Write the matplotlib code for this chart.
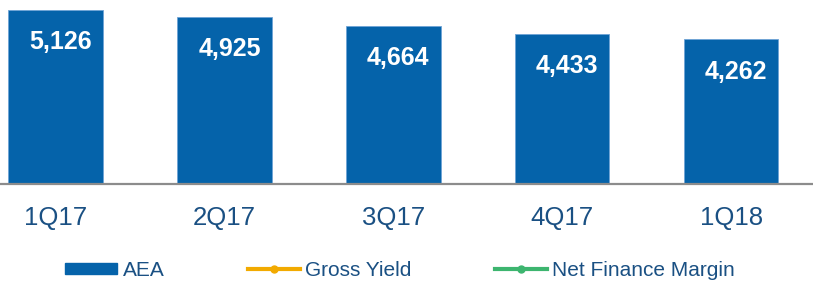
import matplotlib
matplotlib.use('Agg')
from matplotlib import pyplot as plt
from matplotlib import font_manager
from matplotlib.patches import Patch
from matplotlib.lines import Line2D

plt.rcParams['font.family'] = ['Liberation Sans', 'DejaVu Sans']

quarters = ['1Q17', '2Q17', '3Q17', '4Q17', '1Q18']
aea = [5126, 4925, 4664, 4433, 4262]

bar_color = '#0563AA'
text_color = '#1A5083'

# legend uses a condensed face in the original
names = {f.name for f in font_manager.fontManager.ttflist}
if 'Liberation Sans Narrow' in names:
    leg_font = {'family': 'Liberation Sans Narrow', 'size': 19}
    leg_kw = dict(handlelength=2.0, handletextpad=0.2, columnspacing=3.2)
else:
    leg_font = {'family': 'Liberation Sans', 'size': 15}
    leg_kw = dict(handlelength=2.5, handletextpad=0.25, columnspacing=4.0)

fig = plt.figure(figsize=(8.13, 2.83), dpi=100)
ax = fig.add_axes([0, 0.35, 1, 0.65])

x = range(len(quarters))
bars = ax.bar(x, aea, width=0.56, color=bar_color, edgecolor='#6FA3D6', linewidth=0.6, zorder=2)

# value labels inside bars
for xi, v in zip(x, aea):
    ax.text(xi + 0.03, v - 950, '{:,}'.format(v), ha='center', va='center',
            color='white', fontsize=18, fontweight='bold', zorder=3)

ax.set_xlim(-0.328, 4.485)
ax.set_ylim(0, 5421)
ax.set_xticks(list(x))
ax.set_xticklabels(quarters, fontsize=18.5, color=text_color)
ax.tick_params(axis='x', length=0, pad=16)
ax.set_yticks([])
for s in ['top', 'right', 'left']:
    ax.spines[s].set_visible(False)
ax.spines['bottom'].set_color('#8C8C8C')
ax.spines['bottom'].set_linewidth(1.6)

handles = [
    Patch(facecolor=bar_color, edgecolor=bar_color),
    Line2D([], [], color='#F2AA00', lw=3, marker='o', markersize=5),
    Line2D([], [], color='#3DB56F', lw=3, marker='o', markersize=5),
]
labels = ['AEA', 'Gross Yield', 'Net Finance Margin']
leg = fig.legend(handles, labels, loc='center', bbox_to_anchor=(0.492, 0.045), ncol=3,
                 frameon=False, prop=leg_font, handleheight=0.4, borderpad=0, **leg_kw)
for t in leg.get_texts():
    t.set_color(text_color)

fig.savefig('out.png', dpi=100)
